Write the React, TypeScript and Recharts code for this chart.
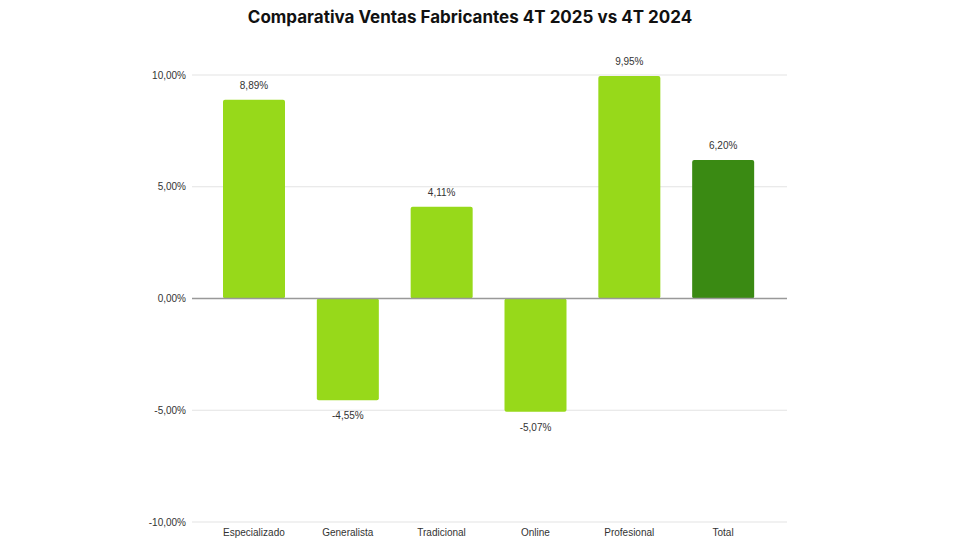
import { BarChart, Bar, XAxis, YAxis, CartesianGrid, ReferenceLine, Cell, LabelList } from 'recharts';

const categories = ['Especializado', 'Generalista', 'Tradicional', 'Online', 'Profesional', 'Total'];
const values = [8.89, -4.55, 4.11, -5.07, 9.95, 6.2];
const yTicks = [-10, -5, 0, 5, 10];

const LIGHT = '#97d91a';
const DARK = '#3a8a13';

const data = categories.map((name, i) => ({ name, value: values[i] }));

const fmt = (v: number) => `${v.toFixed(2).replace('.', ',')}%`;

const FONT = '"Liberation Sans", Arial, sans-serif';

function ValueLabel(props: any) {
  const { x, y, width, height, value } = props;
  const cx = x + width / 2;
  const neg = value < 0;
  // for negative bars recharts gives y at zero and negative height
  const top = Math.min(y, y + height);
  const bottom = Math.max(y, y + height);
  return (
    <text
      x={cx}
      y={neg ? bottom + 19 : top - 11}
      textAnchor="middle"
      fontSize={10}
      fontFamily={FONT}
      fill="#333"
    >
      {fmt(value)}
    </text>
  );
}

export default function App() {
  return (
    <div style={{ position: 'absolute', left: 0, top: 0, width: 980, height: 560, background: '#fff' }}>
      <div
        style={{
          position: 'absolute',
          top: 7,
          left: 0,
          width: 940,
          textAlign: 'center',
          fontFamily: 'Inter, sans-serif',
          fontWeight: 700,
          fontSize: 17,
          color: '#111',
        }}
      >
        Comparativa Ventas Fabricantes 4T 2025 vs 4T 2024
      </div>
      <BarChart
        width={980}
        height={560}
        data={data}
        margin={{ top: 75, right: 193, bottom: 8, left: 132 }}
      >
        <CartesianGrid vertical={false} stroke="#e3e3e3" />
        <XAxis
          dataKey="name"
          height={30}
          axisLine={false}
          tickLine={false}
          tickSize={0}
          tickMargin={7}
          padding={{ left: 15, right: 17 }}
          tick={{ fontSize: 10, fontFamily: FONT, fill: '#333' }}
          interval={0}
        />
        <YAxis
          width={60}
          domain={[-10, 10]}
          ticks={yTicks}
          axisLine={false}
          tickLine={false}
          tickSize={0}
          tickMargin={6}
          tickFormatter={fmt}
          tick={{ fontSize: 10, fontFamily: FONT, fill: '#333' }}
        />
        <Bar dataKey="value" barSize={62} radius={[2, 2, 2, 2]} isAnimationActive={false}>
          {data.map((d, i) => (
            <Cell key={d.name} fill={d.name === 'Total' ? DARK : LIGHT} />
          ))}
          <LabelList dataKey="value" content={<ValueLabel />} />
        </Bar>
        <ReferenceLine y={0} stroke="#999" strokeWidth={1.5} />
      </BarChart>
    </div>
  );
}
